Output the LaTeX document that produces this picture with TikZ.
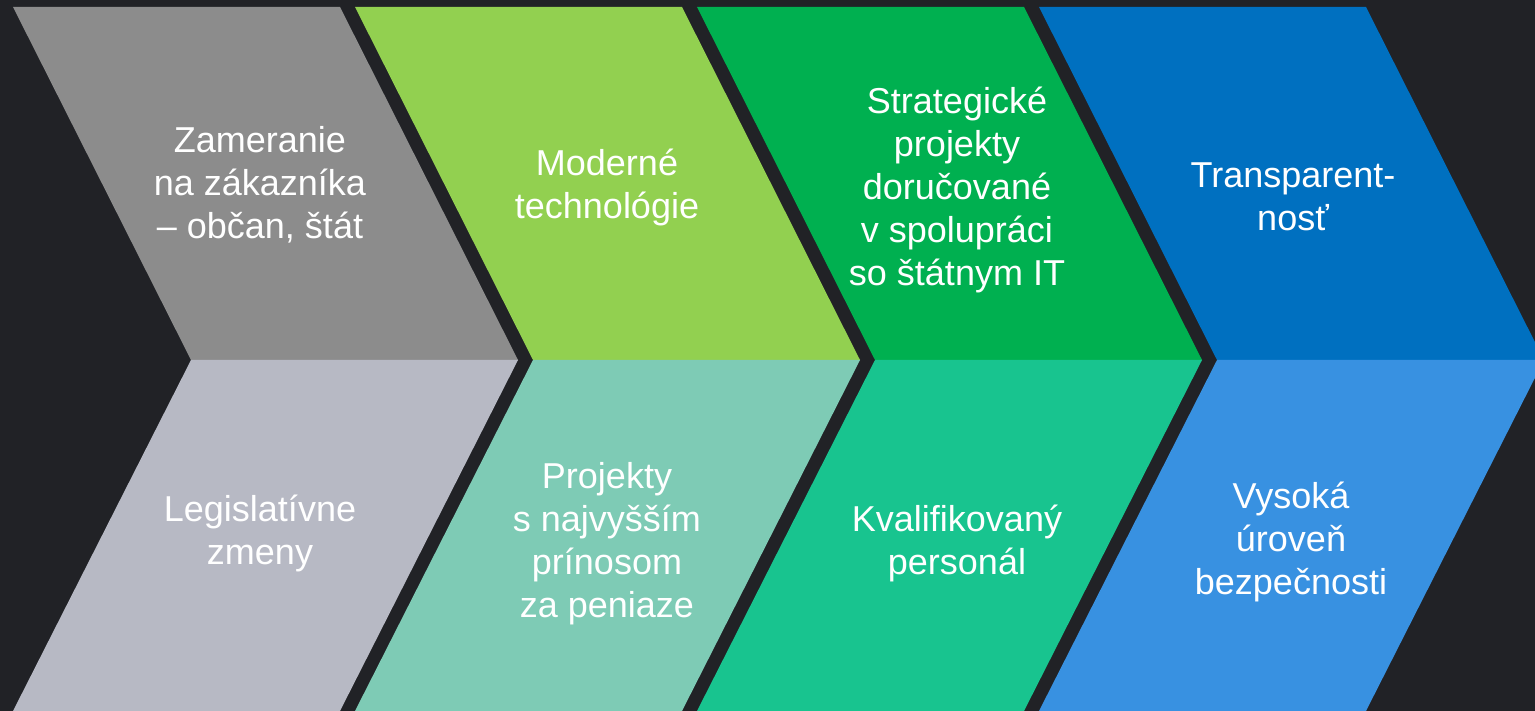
\documentclass[tikz,border=0pt]{standalone}
\usepackage{fontspec}
\setmainfont{Liberation Sans}
\usepackage{tikz}
\definecolor{bgdark}{HTML}{212226}
\definecolor{greytop}{HTML}{8C8C8C}
\definecolor{greybot}{HTML}{B7B9C4}
\definecolor{limetop}{HTML}{92D050}
\definecolor{mintbot}{HTML}{7ECBB5}
\definecolor{greentop}{HTML}{00B050}
\definecolor{greenbot}{HTML}{18C48F}
\definecolor{bluetop}{HTML}{0070C0}
\definecolor{bluebot}{HTML}{3891E1}
\tikzset{
  label/.style={text=white,align=center,font=\fontsize{36}{43}\selectfont,inner sep=0pt}
}

\begin{document}
\begin{tikzpicture}[x=1pt,y=-1pt]
      \useasboundingbox (0,0) rectangle (1535,711);
      \fill[bgdark] (0,0) rectangle (1535,711);
      \clip (0,0) rectangle (1535,711);
      % chevrons, top and bottom halves
      \foreach \i/\ctop/\cbot in {0/greytop/greybot,1/limetop/mintbot,2/greentop/greenbot,3/bluetop/bluebot}{
        \pgfmathsetmacro{\xl}{13+342*\i}
        \fill[\ctop] (\xl,7) -- (\xl+327,7) -- (\xl+505,360) -- (\xl+178,360) -- cycle;
        \fill[\cbot] (\xl+178,360) -- (\xl+505,360) -- (\xl+327,711) -- (\xl,711) -- cycle;
      }
      \node[label] (zam) at (260,185) {Zameranie\\na zákazníka\\– občan, štát};
      \node[label] (leg) at (260,533) {Legislatívne\\zmeny};
      \node[label] (mod) at (607,187) {Moderné\\technológie};
      \node[label] (proj) at (607,544) {Projekty\\s najvyšším\\prínosom\\za peniaze};
      \node[label] (strat) at (957,190) {Strategické\\projekty\\doručované\\v spolupráci\\so štátnym IT};
      \node[label] (kval) at (957,543) {Kvalifikovaný\\personál};
      \node[label] (trans) at (1293,197) {Transparent-\\nosť};
      \node[label] (bezp) at (1291,542) {Vysoká\\úroveň\\bezpečnosti};
\end{tikzpicture}
\end{document}
